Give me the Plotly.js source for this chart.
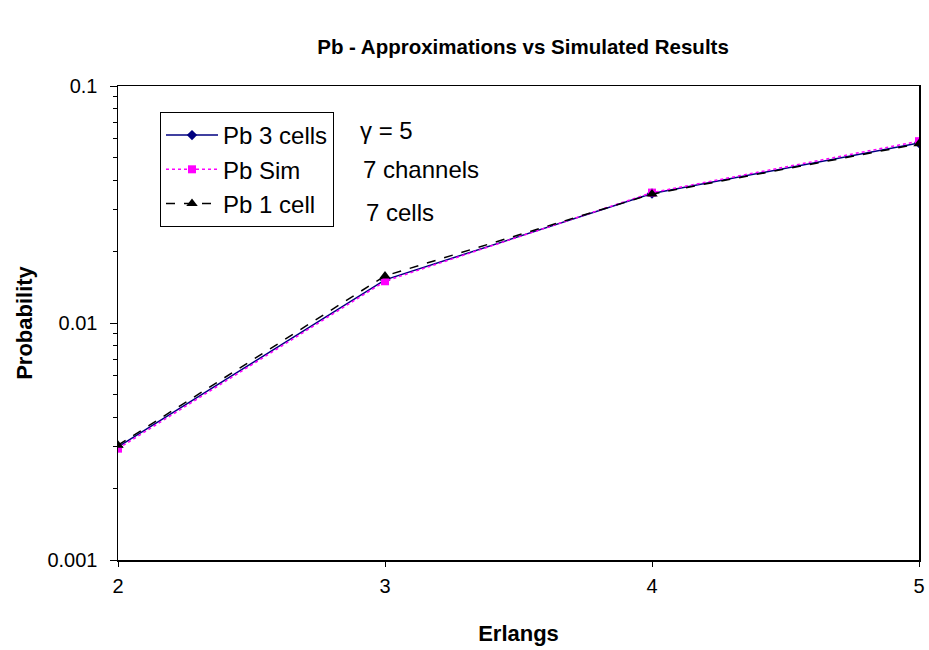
<!DOCTYPE html>
<html>
<head>
<meta charset="utf-8">
<script src="https://cdn.plot.ly/plotly-3.0.1.min.js"></script>
<style>html,body{margin:0;padding:0;background:#fff;}</style>
</head>
<body>
<div id="chart" style="width:929px;height:650px;"></div>
<script>
const erlangs = [2, 3, 4, 5];
const pb3cells = [0.0030, 0.0152, 0.0352, 0.0575];
const pbSim = [0.00295, 0.0150, 0.0355, 0.0585];
const pb1cell = [0.00305, 0.0158, 0.0350, 0.0570];
const xTicks = [2, 3, 4, 5];
const yTicks = [0.001, 0.01, 0.1];
const yTickText = ["0.001", "0.01", "0.1"];

const font = "Arial, 'Liberation Sans', sans-serif";

const traces = [
  {x: erlangs, y: pb3cells, name: "Pb 3 cells", mode: "lines+markers", legendgroup: "a",
   line: {color: "#000080", width: 1.5, dash: "solid"},
   marker: {symbol: "diamond", size: 8, color: "#000080"}},
  {x: erlangs, y: pbSim, name: "Pb Sim", mode: "lines+markers", legendgroup: "b",
   line: {color: "#ff00ff", width: 1.5, dash: "dot"},
   marker: {symbol: "square", size: 8, color: "#ff00ff"}},
  {x: erlangs, y: pb1cell, name: "Pb 1 cell", mode: "lines+markers", legendgroup: "c",
   line: {color: "#000000", width: 1.5, dash: "dash"},
   marker: {symbol: "triangle-up", size: 10, color: "#000000"}}
];

const layout = {
  width: 929, height: 650,
  paper_bgcolor: "#fff", plot_bgcolor: "#fff",
  margin: {l: 118, r: 10, t: 86, b: 90},
  font: {family: font, color: "#000", size: 20},
  title: {text: "<b>Pb - Approximations vs Simulated Results</b>", font: {size: 20.5, family: font, color: "#000"},
          x: 0.563, xanchor: "center", y: 1 - 47/650, yanchor: "middle"},
  xaxis: {range: [2, 5], tickvals: xTicks, ticktext: xTicks.map(String), automargin: false,
          showgrid: false, zeroline: false, showline: true, linecolor: "#000", linewidth: 1.5,
          mirror: true, ticks: "outside", ticklen: 5, tickcolor: "#000",
          tickfont: {size: 20}, ticklabelstandoff: 2,
          title: {text: "<b>Erlangs</b>", font: {size: 22}, standoff: 30}},
  yaxis: {type: "log", range: [-3, -1], tickvals: yTicks, ticktext: yTickText, automargin: false,
          showgrid: false, zeroline: false, showline: true, linecolor: "#000", linewidth: 1.5,
          mirror: true, ticks: "outside", ticklen: 7, tickcolor: "#000",
          tickfont: {size: 20}, ticklabelstandoff: 8,
          minor: {ticks: "outside", ticklen: 4, tickcolor: "#000", dtick: "D1", showgrid: false},
          title: {text: "<b>Probability</b>", font: {size: 22}, standoff: 8}},
  showlegend: true,
  legend: {x: (160-118)/801, y: (560-112)/474, xanchor: "left", yanchor: "top",
           bordercolor: "#000", borderwidth: 1, bgcolor: "#fff",
           font: {size: 24}, tracegroupgap: 0, itemwidth: 52},
  annotations: [
    {xref: "paper", yref: "paper", x: (358-118)/801, y: (560-131)/474, xanchor: "left", yanchor: "middle",
     text: "γ = 5", showarrow: false, font: {size: 24}},
    {xref: "paper", yref: "paper", x: (361-118)/801, y: (560-169)/474, xanchor: "left", yanchor: "middle",
     text: "7 channels", showarrow: false, font: {size: 24}},
    {xref: "paper", yref: "paper", x: (364-118)/801, y: (560-213)/474, xanchor: "left", yanchor: "middle",
     text: "7 cells", showarrow: false, font: {size: 24}}
  ]
};

Plotly.newPlot("chart", traces, layout, {displayModeBar: false, staticPlot: true});
</script>
</body>
</html>
